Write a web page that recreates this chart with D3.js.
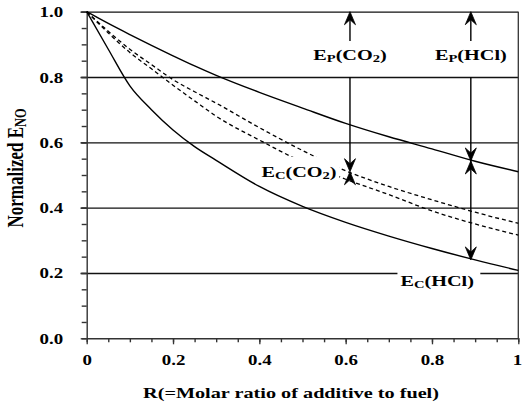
<!DOCTYPE html>
<html>
<head>
<meta charset="utf-8">
<script src="https://cdn.jsdelivr.net/npm/d3@7"></script>
<style>
  body { margin: 0; background: #fff; }
</style>
</head>
<body>
<div id="vis1"></div>
<script>
// molar ratio R and the four normalized E_NO curves
const R = [0, 0.05, 0.1, 0.15, 0.2, 0.25, 0.3, 0.4, 0.5, 0.6, 0.7, 0.8, 0.9, 1.0];
const hclUpper = [1, 0.964, 0.93, 0.897, 0.865, 0.834, 0.805, 0.753, 0.705, 0.658, 0.617, 0.58, 0.542, 0.51];
const co2Upper = [1, 0.94, 0.885, 0.838, 0.792, 0.755, 0.72, 0.645, 0.575, 0.513, 0.465, 0.424, 0.386, 0.352];
const co2Lower = [1, 0.935, 0.875, 0.825, 0.775, 0.727, 0.68, 0.607, 0.54, 0.487, 0.44, 0.39, 0.35, 0.316];
const hclLower = [1, 0.885, 0.773, 0.70, 0.638, 0.587, 0.545, 0.465, 0.404, 0.355, 0.313, 0.275, 0.24, 0.208];

// ticks
const xTicks = [0, 0.2, 0.4, 0.6, 0.8, 1];
const xTickLabels = ['0', '0.2', '0.4', '0.6', '0.8', '1'];
const yTicks = [0, 0.2, 0.4, 0.6, 0.8, 1];
const yTickLabels = ['0.0', '0.2', '0.4', '0.6', '0.8', '1.0'];
const minorTicks = d3.range(0, 1.0001, 0.05);

// arrows: R position, where the X mark sits, where the lower arrow ends
const arrowR = [0.61, 0.89];
const arrowMark = [0.51, 0.543];
const arrowEnd = [0.51, 0.24];

// labels, parts are [text, subscript?]
const labelParts = [
  [['E', 0], ['P', 1], ['(CO', 0], ['2', 1], [')', 0]],
  [['E', 0], ['P', 1], ['(HCl)', 0]],
  [['E', 0], ['C', 1], ['(CO', 0], ['2', 1], [')', 0]],
  [['E', 0], ['C', 1], ['(HCl)', 0]]
];
const labelR = [0.61, 0.89, 0.492, 0.812];
const labelV = [0.853, 0.853, 0.494, 0.16];

const FRAME_WIDTH = 522;
const FRAME_HEIGHT = 411;
const MARGINS = {left: 86.7, right: 3.7, top: 11.7, bottom: 72.7};
const VIS_WIDTH = FRAME_WIDTH - MARGINS.left - MARGINS.right;
const VIS_HEIGHT = FRAME_HEIGHT - MARGINS.top - MARGINS.bottom;

const SX = 1.35; // the scan is stretched sideways
const FONT = '"Liberation Serif", "Times New Roman", serif';

const FRAME = d3.select('#vis1')
  .append('svg')
    .attr('width', FRAME_WIDTH)
    .attr('height', FRAME_HEIGHT);

const VIS = FRAME.append('g')
  .attr('transform', `translate(${MARGINS.left},${MARGINS.top})`);

const X_SCALE = d3.scaleLinear().domain([0, 1]).range([0, VIS_WIDTH]);
const Y_SCALE = d3.scaleLinear().domain([0, 1]).range([VIS_HEIGHT, 0]);

function addText(sel, x, y, parts, size, anchor, extra) {
  const t = sel.append('text')
    .attr('transform', `translate(${x},${y}) scale(${SX},1)` + (extra || ''))
    .attr('text-anchor', anchor)
    .style('font-family', FONT)
    .style('font-weight', 'bold')
    .style('font-size', size + 'px')
    .attr('fill', '#000');
  let shift = 0;
  parts.forEach(([s, sub]) => {
    const want = sub ? 2 : 0;
    t.append('tspan')
      .attr('dy', want - shift)
      .style('font-size', (sub ? size * 0.72 : size) + 'px')
      .text(s);
    shift = want;
  });
  return t;
}

// gridlines (plus the top frame line), running a bit past the left axis
VIS.append('g')
  .attr('transform', `translate(${VIS_WIDTH},0)`)
  .call(d3.axisLeft(Y_SCALE).tickValues([0.2, 0.4, 0.6, 0.8, 1]).tickSize(VIS_WIDTH + 6).tickFormat(''))
  .call(g => g.select('.domain').remove())
  .call(g => g.selectAll('line').attr('stroke', '#111').attr('stroke-width', 1.3));

// right border
VIS.append('line')
  .attr('x1', X_SCALE(1)).attr('x2', X_SCALE(1))
  .attr('y1', Y_SCALE(1)).attr('y2', Y_SCALE(0))
  .attr('stroke', '#333').attr('stroke-width', 1.3);

// y axis
VIS.append('g')
  .call(d3.axisLeft(Y_SCALE).tickValues(minorTicks).tickSize(5).tickSizeOuter(0).tickFormat(''))
  .call(g => g.selectAll('line, path').attr('stroke', '#333').attr('stroke-width', 1.4));

VIS.append('g')
  .call(d3.axisLeft(Y_SCALE).tickValues(yTicks).tickSize(6).tickFormat((d, i) => yTickLabels[i]))
  .call(g => g.select('.domain').remove())
  .call(g => g.selectAll('line').attr('stroke', '#333').attr('stroke-width', 1.3))
  .call(g => g.selectAll('text')
    .attr('x', null).attr('dy', null)
    .attr('transform', `translate(-23.5,5) scale(${SX},1)`)
    .attr('text-anchor', 'end')
    .style('font-family', FONT).style('font-weight', 'bold').style('font-size', '14px')
    .attr('fill', '#000'));

// x axis
VIS.append('g')
  .attr('transform', `translate(0,${VIS_HEIGHT})`)
  .call(d3.axisBottom(X_SCALE).tickValues(minorTicks).tickSize(4).tickSizeOuter(0).tickFormat(''))
  .call(g => g.selectAll('line, path').attr('stroke', '#333').attr('stroke-width', 1.4));

VIS.append('g')
  .attr('transform', `translate(0,${VIS_HEIGHT})`)
  .call(d3.axisBottom(X_SCALE).tickValues(xTicks).tickSize(6).tickFormat((d, i) => xTickLabels[i]))
  .call(g => g.select('.domain').remove())
  .call(g => g.selectAll('line').attr('stroke', '#333').attr('stroke-width', 1.3))
  .call(g => g.selectAll('text')
    .attr('y', null).attr('dy', null)
    .attr('transform', (d, i) => i === xTicks.length - 1
      ? `translate(3.3,27) scale(${SX},1)`
      : `translate(0,27) scale(${SX},1)`)
    .attr('text-anchor', (d, i) => i === xTicks.length - 1 ? 'end' : 'middle')
    .style('font-family', FONT).style('font-weight', 'bold').style('font-size', '14px')
    .attr('fill', '#000'));

// curves
const line = d3.line()
  .x((d, i) => X_SCALE(R[i]))
  .y(d => Y_SCALE(d))
  .curve(d3.curveMonotoneX);

[[hclUpper, null], [co2Upper, '4,3'], [co2Lower, '4,3'], [hclLower, null]].forEach(([s, dash]) => {
  VIS.append('path')
    .datum(s)
    .attr('d', line)
    .attr('fill', 'none')
    .attr('stroke', '#000')
    .attr('stroke-width', dash ? 1.3 : 1.4)
    .attr('stroke-dasharray', dash);
});

// arrows
function head(x, yTip, dir) {
  // dir 1 points down, -1 points up
  VIS.append('path')
    .attr('d', `M${x},${yTip} L${x - 5.5},${yTip - dir * 13} L${x},${yTip - dir * 8} L${x + 5.5},${yTip - dir * 13} Z`)
    .attr('fill', '#000')
    .attr('stroke', '#000')
    .attr('stroke-width', 0.8)
    .attr('stroke-linejoin', 'round');
}

arrowR.forEach((r, i) => {
  const x = X_SCALE(r);
  // upward arrow to the top frame
  VIS.append('line')
    .attr('x1', x).attr('x2', x)
    .attr('y1', Y_SCALE(0.91)).attr('y2', Y_SCALE(1) + 6)
    .attr('stroke', '#000').attr('stroke-width', 1.4);
  head(x, Y_SCALE(1), -1);
  // downward arrow from the 0.8 line
  VIS.append('line')
    .attr('x1', x).attr('x2', x)
    .attr('y1', Y_SCALE(0.8)).attr('y2', Y_SCALE(arrowEnd[i]) - 4)
    .attr('stroke', '#000').attr('stroke-width', 1.4);
  head(x, Y_SCALE(arrowMark[i]), 1);
  head(x, Y_SCALE(arrowMark[i]), -1);
  if (arrowEnd[i] !== arrowMark[i]) head(x, Y_SCALE(arrowEnd[i]), 1);
});

// label backgrounds
VIS.append('rect')
  .attr('x', X_SCALE(0.406)).attr('y', Y_SCALE(0.556))
  .attr('width', X_SCALE(0.585) - X_SCALE(0.406)).attr('height', Y_SCALE(0.48) - Y_SCALE(0.556))
  .attr('fill', '#fff');
VIS.append('rect')
  .attr('x', X_SCALE(0.72)).attr('y', Y_SCALE(0.222))
  .attr('width', X_SCALE(0.912) - X_SCALE(0.72)).attr('height', Y_SCALE(0.142) - Y_SCALE(0.222))
  .attr('fill', '#fff');

// labels
labelParts.forEach((parts, i) => {
  addText(VIS, X_SCALE(labelR[i]), Y_SCALE(labelV[i]), parts, 15, 'middle');
});

// axis titles
addText(FRAME, 291, 398, [['R(=Molar ratio of additive to fuel)', 0]], 15, 'middle');
addText(FRAME, 23, 168, [['Normalized E', 0], ['NO', 1]], 17, 'middle', ' rotate(-90)');
</script>
</body>
</html>
